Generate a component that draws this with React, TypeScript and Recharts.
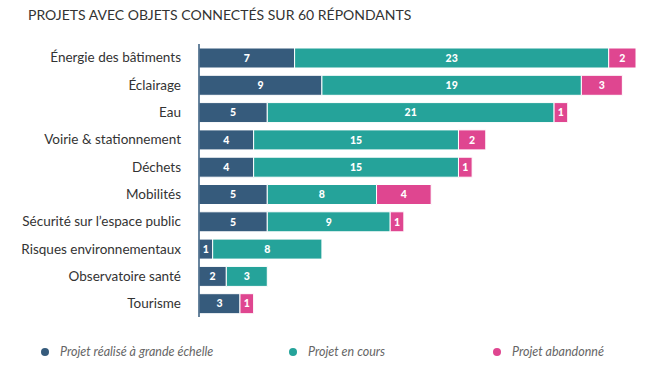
import { BarChart, Bar, XAxis, YAxis, Legend, LabelList } from 'recharts';

const categories = [
  'Énergie des bâtiments',
  'Éclairage',
  'Eau',
  'Voirie & stationnement',
  'Déchets',
  'Mobilités',
  'Sécurité sur l’espace public',
  'Risques environnementaux',
  'Observatoire santé',
  'Tourisme',
];
const realises = [7, 9, 5, 4, 4, 5, 5, 1, 2, 3];
const enCours = [23, 19, 21, 15, 15, 8, 9, 8, 3, 0];
const abandonnes = [2, 3, 1, 2, 1, 4, 1, 0, 0, 1];

const series = [
  { key: 'realise', name: 'Projet réalisé à grande échelle', color: '#365b7c' },
  { key: 'encours', name: 'Projet en cours', color: '#25a39a' },
  { key: 'abandon', name: 'Projet abandonné', color: '#df4690' },
];

const data = categories.map((name, i) => ({
  name,
  realise: realises[i],
  encours: enCours[i],
  abandon: abandonnes[i],
}));

const font = 'Lato, "Open Sans", sans-serif';

const showValue = (v: unknown) => (v ? String(v) : '');

function LegendRow() {
  const lefts = [41, 289, 493];
  return (
    <div style={{ position: 'relative', height: 20 }}>
      {series.map((s, i) => (
        <div
          key={s.key}
          style={{ position: 'absolute', left: lefts[i], top: 0, display: 'flex', alignItems: 'center' }}
        >
          <span
            style={{ width: 8, height: 8, borderRadius: 4, background: s.color, display: 'inline-block', marginRight: 11 }}
          />
          <span style={{ fontStyle: 'italic', fontSize: 12.5, color: '#666', fontFamily: font }}>{s.name}</span>
        </div>
      ))}
    </div>
  );
}

export default function App() {
  return (
    <div style={{ position: 'absolute', left: 0, top: 0, width: 650, height: 374, background: '#fff' }}>
      <div
        style={{ position: 'absolute', left: 28, top: 6, fontFamily: font, fontSize: 14, color: '#333' }}
      >
        PROJETS AVEC OBJETS CONNECTÉS SUR 60 RÉPONDANTS
      </div>
      <BarChart
        width={650}
        height={374}
        data={data}
        layout="vertical"
        margin={{ top: 44, right: 14, bottom: 37, left: 0 }}
        barSize={20}
      >
        <XAxis type="number" domain={[0, 32]} hide />
        <YAxis
          type="category"
          dataKey="name"
          width={199}
          tickLine={false}
          axisLine={{ stroke: '#365b7c', strokeWidth: 1.5 }}
          tick={{ fill: '#333', fontSize: 13.5, fontFamily: font }}
          tickMargin={12}
          interval={0}
        />
        <Legend
          verticalAlign="bottom"
          wrapperStyle={{ left: 0, bottom: 10, width: 650 }}
          content={() => <LegendRow />}
        />
        {series.map((s) => (
          <Bar
            key={s.key}
            dataKey={s.key}
            name={s.name}
            stackId="a"
            fill={s.color}
            stroke="#ffffff"
            strokeWidth={1}
            isAnimationActive={false}
          >
            <LabelList
              dataKey={s.key}
              position="center"
              formatter={showValue}
              style={{ fill: '#fff', fontSize: 10.5, fontWeight: 900, fontFamily: font }}
            />
          </Bar>
        ))}
      </BarChart>
    </div>
  );
}
